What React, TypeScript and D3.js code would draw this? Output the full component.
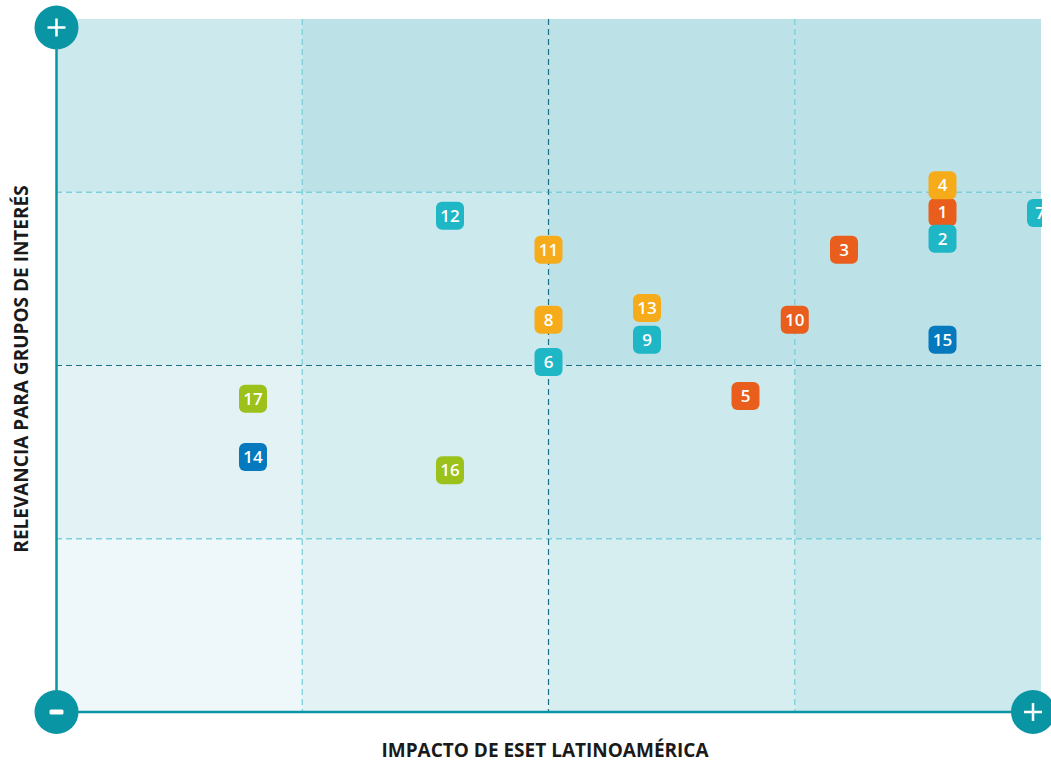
import React from "react";
import * as d3 from "d3";

// issue number, impact (x), relevance (y), group
const ids = ["1", "2", "3", "4", "5", "6", "7", "8", "9", "10", "11", "12", "13", "14", "15", "16", "17"];
const impact = [9, 9, 8, 9, 7, 5, 10, 5, 6, 7.5, 5, 4, 6, 2, 9, 4, 2];
const relevance = [7.21, 6.83, 6.67, 7.6, 4.56, 5.05, 7.2, 5.66, 5.37, 5.66, 6.67, 7.16, 5.83, 3.68, 5.37, 3.49, 4.52];
const groups = ["red", "teal", "red", "orange", "red", "teal", "teal", "orange", "teal", "red", "orange", "teal", "orange", "blue", "blue", "green", "green"];

const groupColors: Record<string, string> = {
  orange: "#f6ab1a",
  red: "#e95e1d",
  teal: "#1fb6c6",
  blue: "#0479bd",
  green: "#9cc11b",
};

// background shade by level (bottom-left lightest)
const shades = ["#eef7f9", "#e2f2f5", "#d7eef1", "#cceaee", "#bce2e8"];

const W = 1051;
const H = 765;
const left = 56;
const right = 1041;
const top = 19;
const bottom = 712;
const axisColor = "#0a95a5";

export default function App() {
  const x = d3.scaleLinear().domain([0, 10]).range([left, right]);
  const y = d3.scaleLinear().domain([0, 10]).range([bottom, top]);
  const quarters = [0, 2.5, 5, 7.5];

  const cells: { c: number; r: number }[] = [];
  for (let c = 0; c < 4; c++) for (let r = 0; r < 4; r++) cells.push({ c, r });

  const box = 28;

  return (
    <svg width={W} height={H} style={{ position: "absolute", left: 0, top: 0, background: "#fff" }}
      fontFamily="'Open Sans', sans-serif">
      <defs>
        <clipPath id="plot">
          <rect x={left} y={0} width={right - left + 1} height={H} />
        </clipPath>
      </defs>
      {cells.map(({ c, r }) => {
        const lvl = Math.min(4, c + r);
        const x0 = x(quarters[c]);
        const y0 = y(quarters[r] + 2.5);
        return (
          <rect key={`${c}-${r}`} x={x0} y={y0} width={x(quarters[c] + 2.5) - x0}
            height={y(quarters[r]) - y0} fill={shades[lvl]} />
        );
      })}
      {[2.5, 7.5].map((v) => (
        <g key={v}>
          <line x1={x(v)} x2={x(v)} y1={top} y2={bottom} stroke="#7ccfdb" strokeWidth={1.3} strokeDasharray="6 4" />
          <line x1={left} x2={right} y1={y(v)} y2={y(v)} stroke="#7ccfdb" strokeWidth={1.3} strokeDasharray="6 4" />
        </g>
      ))}
      <line x1={x(5)} x2={x(5)} y1={top} y2={bottom} stroke="#1d6f86" strokeWidth={1.2} strokeDasharray="6 4" />
      <line x1={left} x2={right} y1={y(5)} y2={y(5)} stroke="#1d6f86" strokeWidth={1.2} strokeDasharray="6 4" />

      <g clipPath="url(#plot)">
        {ids.map((id, i) => (
          <rect key={id} x={x(impact[i]) - box / 2} y={y(relevance[i]) - box / 2} width={box} height={box} rx={6}
            fill={groupColors[groups[i]]} />
        ))}
      </g>
      {ids.map((id, i) => (
        <text key={id} x={x(impact[i]) - (impact[i] >= 10 ? 1 : 0)} y={y(relevance[i])} textAnchor="middle" dy="0.36em"
          fill="#fff" fontSize={17} fontWeight={600}>{id}</text>
      ))}

      <line x1={left + 0.5} x2={left + 0.5} y1={28} y2={bottom} stroke={axisColor} strokeWidth={2.5} />
      <line x1={left} x2={1033} y1={bottom} y2={bottom} stroke={axisColor} strokeWidth={2.5} />

      <g transform="translate(56.5,27.5)">
        <circle r={22} fill={axisColor} />
        <path d="M-9,0H9M0,-9V9" stroke="#fff" strokeWidth={2.5} />
      </g>
      <g transform="translate(56.5,712)">
        <circle r={22} fill={axisColor} />
        <rect x={-7} y={-2.5} width={14} height={5} rx={1.5} fill="#fff" />
      </g>
      <g transform="translate(1033,712)">
        <circle r={22} fill={axisColor} />
        <path d="M-9,0H9M0,-9V9" stroke="#fff" strokeWidth={2.5} />
      </g>

      <text x={545} y={757} textAnchor="middle" fontSize={19} fontWeight={700} fill="#1a1a1a">
        IMPACTO DE ESET LATINOAMÉRICA
      </text>
      <text transform="translate(28,369) rotate(-90)" textAnchor="middle" fontSize={19} fontWeight={700} fill="#1a1a1a">
        RELEVANCIA PARA GRUPOS DE INTERÉS
      </text>
    </svg>
  );
}
